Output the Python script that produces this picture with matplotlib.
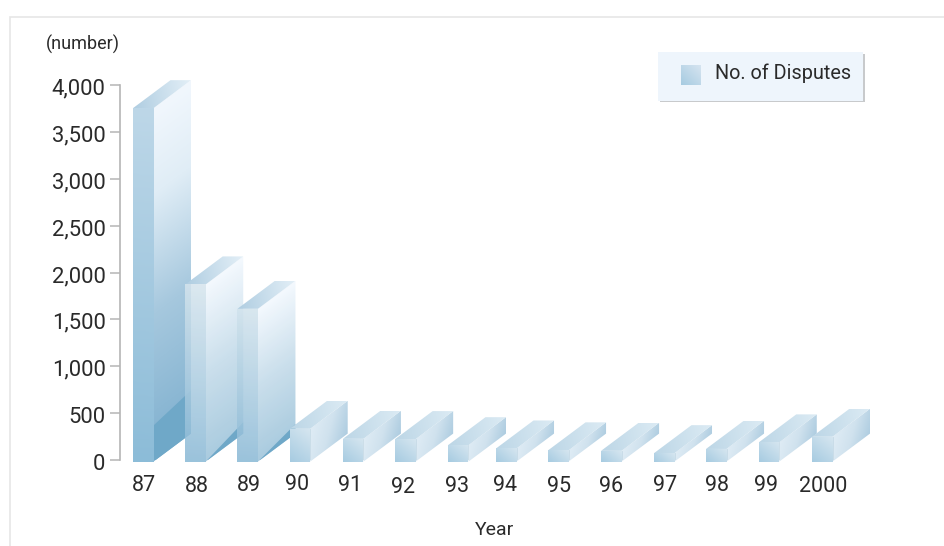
import numpy as np
import matplotlib
matplotlib.use("Agg")
import matplotlib.pyplot as plt
from matplotlib.colors import LinearSegmentedColormap
from matplotlib.patches import Polygon, Rectangle
from matplotlib.transforms import ScaledTranslation

plt.rcParams["font.family"] = ["Roboto", "DejaVu Sans"]

# Disputes per year
years = ["87", "88", "89", "90", "91", "92", "93", "94", "95", "96", "97", "98", "99", "2000"]
disputes = [3770, 1890, 1630, 350, 243, 240, 175, 140, 120, 115, 90, 135, 205, 265]
yticks = [0, 500, 1000, 1500, 2000, 2500, 3000, 3500, 4000]

# Hand-placed offsets of bars and year captions from the regular spacing (px)
bar_dx = [0, 0, 0, 0, 1, 1, 1.6, -2.6, -2.8, -2, -1.3, -1.5, -1, 0]
label_dx = [0.7, 1.5, 1.3, -3, -2.2, -1.4, 0.4, -3.9, -2, -2.3, -0.5, -0.8, -4, 0.7]
label_dy = [0, 1, 0, -1, 0, 2, 1, 0, 1, 1, 0, 0, 0, 1]

W, H, DPI = 944, 546, 100
TEXT = "#2a2a2a"
fig = plt.figure(figsize=(W / DPI, H / DPI), dpi=DPI, facecolor="white")

# Overlay in pixel coordinates for the frame and the legend box
deco = fig.add_axes([0, 0, 1, 1], zorder=0)
deco.set_xlim(0, W)
deco.set_ylim(H, 0)
deco.axis("off")
deco.plot([9.5, 9.5, W], [H, 16.5, 16.5], color="#e6e6e6", lw=1.2, solid_joinstyle="miter")

# Main axes: spine at x=119.5, value 0 at y=460, value 4000 at y=85
left, right, top, bottom = 119.5, 880.0, 85.0, 460.0
ax = fig.add_axes([left / W, 1 - bottom / H, (right - left) / W, (bottom - top) / H],
                  zorder=1, facecolor="none")
step = (812 - 133) / 13
x0_px = 133 + 10.25
ax.set_xlim((left - x0_px) / step, (right - x0_px) / step)
ax.set_ylim(0, 4000)
ax.autoscale(False)

px_x = 1 / step
px_y = 4000 / (bottom - top)
bar_w = 20.5 * px_x
depth_x = 37.5 * px_x
depth_y = 28 * px_y
bar_tf = ax.transData + ScaledTranslation(0, -1.6 / DPI, fig.dpi_scale_trans)


def face(verts, stops, angle, z, alpha=1.0):
    """Paint a polygon with a linear gradient running along `angle` (degrees)."""
    verts = np.asarray(verts, dtype=float)
    xa, xb = verts[:, 0].min(), verts[:, 0].max()
    ya, yb = verts[:, 1].min(), verts[:, 1].max()
    n = 120
    u, v = np.meshgrid(np.linspace(xa, xb, n), np.linspace(ya, yb, n))
    dx, dy = np.cos(np.radians(angle)), np.sin(np.radians(angle))
    t = u / px_x * dx + v / px_y * dy
    corners = verts[:, 0] / px_x * dx + verts[:, 1] / px_y * dy
    t = np.clip((t - corners.min()) / (corners.max() - corners.min()), 0, 1)
    cmap = LinearSegmentedColormap.from_list("face", stops)
    im = ax.imshow(cmap(t)[..., :3], origin="lower", extent=(xa, xb, ya, yb), aspect="auto",
                   interpolation="bilinear", zorder=z, alpha=alpha, transform=bar_tf)
    clip = Polygon(verts, closed=True, transform=bar_tf, fc="none", ec="none", zorder=z)
    ax.add_patch(clip)
    im.set_clip_path(clip)
    im.set_clip_box(fig.bbox)
    return im


SIDE_STOPS = {
    0: [(0, "#7fb0cf"), (0.42, "#a6c8de"), (0.76, "#e0edf6"), (1, "#f1f7fd")],
    1: [(0, "#9cc3da"), (0.5, "#c2dae9"), (1, "#f2f8fe")],
    2: [(0, "#9cc3da"), (0.5, "#c2dae9"), (1, "#f2f8fe")],
}
FRONT_STOPS = {
    0: [(0, "#8cbcd8"), (1, "#bdd7e8")],
    1: [(0, "#8ab9d6"), (1, "#d6e5ee")],
    2: [(0, "#8ab9d6"), (1, "#d2e3ed")],
}
WEDGE = {0: (385, 760), 1: (0, 420), 2: (0, 400)}

for i, (year, val) in enumerate(zip(years, disputes)):
    xl = i - 10.25 * px_x + bar_dx[i] * px_x
    xr = xl + bar_w
    z = 2 + i
    front = [(xl, 0), (xr, 0), (xr, val), (xl, val)]
    side = [(xr, 0), (xr + depth_x, depth_y), (xr + depth_x, val + depth_y), (xr, val)]
    roof = [(xl, val), (xr, val), (xr + depth_x, val + depth_y), (xl + depth_x, val + depth_y)]
    if val > 1000:
        alpha = 1.0 if i == 0 else 0.86
        face(side, SIDE_STOPS[i], 127, z, alpha)
        # Darker wedge at the foot of the side face
        h0, h1 = WEDGE[i]
        wedge = Polygon([(xr, 0), (xr + depth_x, depth_y), (xr + depth_x, h1), (xr, h0)],
                        closed=True, transform=bar_tf, fc="#6fa8c8", ec="none", zorder=z)
        ax.add_patch(wedge)
        face(front, FRONT_STOPS[i], 85, z, alpha)
        face(roof, ["#afcde1", "#e3eff7"], 10, z)
    else:
        face(side, ["#adcce0", "#d0e2ee", "#dfecf5"], 165, z)
        face(front, ["#a6cbe1", "#d6e6f0"], 50, z)
        face(roof, ["#bcd6e6", "#dcebf4"], 10, z)
        ax.plot([xr, xr], [0, val], color="#c6dae6", lw=0.6, transform=bar_tf, zorder=z + 0.5)

for s in ("top", "right", "bottom"):
    ax.spines[s].set_visible(False)
ax.spines["left"].set_color("#b5b5b5")
ax.spines["left"].set_linewidth(1.2)
ax.set_yticks(yticks)
ax.set_yticklabels([f"{v:,}" for v in yticks], fontsize=15.8, color=TEXT)
ax.tick_params(axis="y", length=7, width=1.1, color="#b5b5b5", pad=3)
for lab in ax.get_yticklabels():
    lab.set_transform(lab.get_transform() + ScaledTranslation(0, -1.5 / DPI, fig.dpi_scale_trans))

ax.set_xticks(np.arange(len(years)))
ax.set_xticklabels(years, fontsize=15.5, color=TEXT)
ax.tick_params(axis="x", length=0, pad=11)
for lab, dx, dy in zip(ax.get_xticklabels(), label_dx, label_dy):
    lab.set_transform(lab.get_transform() + ScaledTranslation(dx / DPI, -dy / DPI, fig.dpi_scale_trans))

deco.text(82.5, 44.5, "(number)", fontsize=13, color=TEXT, ha="center", va="center")
deco.text(495, 530, "Year", fontsize=14, color=TEXT, ha="center", va="center")

# Legend box with a soft edge on the right and bottom
deco.add_patch(Rectangle((660, 54), 204.5, 48, fc="#c8cacc", ec="none", zorder=1))
deco.add_patch(Rectangle((658, 52), 205, 48.5, fc="#eef5fc", ec="none", zorder=2))
n = 40
u, v = np.meshgrid(np.linspace(0, 1, n), np.linspace(0, 1, n))
swatch_cmap = LinearSegmentedColormap.from_list("swatch", ["#a6cbe1", "#d6e4f0"])
deco.imshow(swatch_cmap((u + (1 - v)) / 2)[..., :3], origin="upper", extent=(681, 701, 85, 65),
            aspect="auto", zorder=3)
deco.set_xlim(0, W)
deco.set_ylim(H, 0)
deco.text(715, 73, "No. of Disputes", fontsize=14.3, color=TEXT, ha="left", va="center", zorder=3)

fig.savefig("out.png", dpi=DPI)
